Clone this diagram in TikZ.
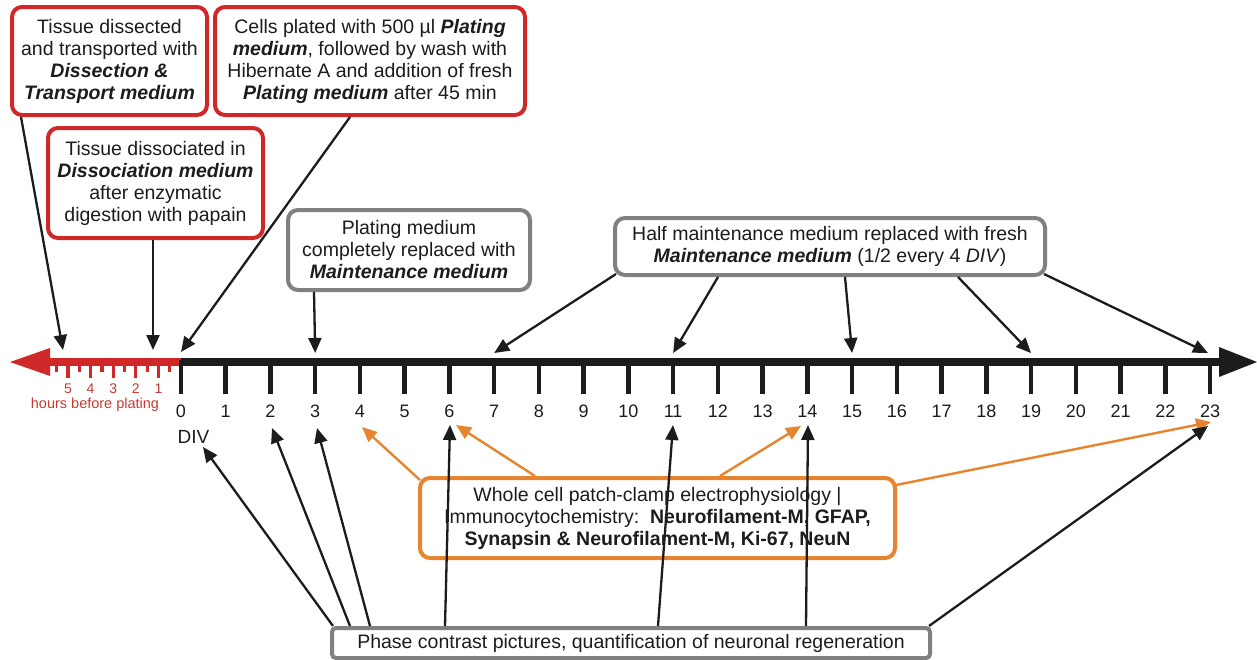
\documentclass[tikz,border=0pt]{standalone}
\usepackage{fontspec}
\setmainfont{Liberation Sans}
\usetikzlibrary{arrows.meta}
\definecolor{bred}{RGB}{208,40,40}
\definecolor{bgray}{RGB}{128,128,128}
\definecolor{borange}{RGB}{230,132,48}
\definecolor{tred}{RGB}{196,58,50}
\definecolor{ink}{RGB}{28,28,28}
\newcommand{\bi}[1]{\textbf{\textit{#1}}}
\begin{document}
\begin{tikzpicture}[x=1pt,y=-1pt,
  box/.style={draw, line width=4pt, rounded corners=10pt, align=center,
    font=\fontsize{19.5}{22}\selectfont, text=ink, inner sep=0pt},
  redbox/.style={box, draw=bred, fill=white},
  graybox/.style={box, draw=bgray, fill=white},
  orbox/.style={box, draw=borange},
  arr/.style={line width=2.3pt, draw=ink, -{Triangle[length=15pt,width=13pt]}},
  oarr/.style={line width=2.4pt, draw=borange, -{Triangle[length=15pt,width=13pt]}},
  divlab/.style={font=\fontsize{18}{18}\selectfont, text=ink},
  hlab/.style={font=\fontsize{14}{14}\selectfont, text=tred},
]
\useasboundingbox (0,0) rectangle (1257,659);

% ---- time axis ----
\draw[line width=8pt, bred] (46,362) -- (182,362);
\fill[bred] (10,362) -- (50,348) -- (50,376) -- cycle;
\draw[line width=8pt, ink] (181,362) -- (1222,362);
\fill[ink] (1257,362) -- (1219,347) -- (1219,377) -- cycle;
\foreach \i in {0,...,23} {
  \draw[line width=4.5pt, ink] (181+44.74*\i,360) -- (181+44.74*\i,394);
  \node[divlab] at (181+44.74*\i,411) {\i};
}
\node[divlab, font=\fontsize{19}{19}\selectfont, anchor=west] (div) at (174,437) {DIV};
\foreach \h in {1,...,5} {
  \draw[line width=3.2pt, bred] (181-22.6*\h,362) -- (181-22.6*\h,378);
  \node[hlab] at (181-22.6*\h,389) {\h};
}
\foreach \h in {0.5,1.5,...,5.5}
  \draw[line width=3.2pt, bred] (181-22.6*\h,362) -- (181-22.6*\h,372);
\node[font=\fontsize{14.5}{14.5}\selectfont, text=tred] (hbp) at (95,405) {hours before plating};

% targets on the axis
\coordinate (h53) at (63,350);
\coordinate (h12) at (153,350);
\coordinate (t0) at (181,352);
\coordinate (t3) at (315.2,353);
\coordinate (t7) at (494.2,353);
\coordinate (t11) at (673.1,353);
\coordinate (t15) at (852.1,353);
\coordinate (t19) at (1031,353);
\coordinate (t23) at (1208,353);
\coordinate (l0) at (203,447);
\coordinate (l2) at (272,428);
\coordinate (l3) at (317,428);
\coordinate (l4) at (362,427);
\coordinate (l6) at (450,425);
\coordinate (o6) at (456,425);
\coordinate (l11) at (673,425);
\coordinate (o14) at (801,426);
\coordinate (l14) at (808,425);
\coordinate (o23) at (1211,422);
\coordinate (l23) at (1208,426);

% ---- boxes ----
\node[redbox, minimum width=195pt, minimum height=108pt] (b1) at (109.5,61)
  {Tissue dissected\\and transported with\\\bi{Dissection \&}\\\bi{Transport medium}};
\node[redbox, minimum width=310pt, minimum height=108pt] (b2) at (370,61)
  {Cells plated with 500 µl \bi{Plating}\\\bi{medium}, followed by wash with\\Hibernate A and addition of fresh\\\bi{Plating medium} after 45 min};
\node[redbox, minimum width=215pt, minimum height=110pt] (b3) at (155.5,183)
  {Tissue dissociated in\\\bi{Dissociation medium}\\after enzymatic\\digestion with papain};
\node[graybox, minimum width=242pt, minimum height=80pt] (b4) at (409,250)
  {Plating medium\\completely replaced with\\\bi{Maintenance medium}};
\node[graybox, minimum width=430pt, minimum height=57pt] (b5) at (830,246.5)
  {Half maintenance medium replaced with fresh\\\bi{Maintenance medium} (1/2 every 4 \textit{DIV})};
\node[orbox, minimum width=475pt, minimum height=80pt] (b6) at (657.5,518)
  {Whole cell patch-clamp electrophysiology |\\Immunocytochemistry:\ \ \textbf{Neurofilament-M, GFAP,}\\\textbf{Synapsin \& Neurofilament-M, Ki-67, NeuN}};
\node[graybox, rounded corners=4pt, minimum width=598pt, minimum height=30pt] (b7) at (631,643)
  {Phase contrast pictures, quantification of neuronal regeneration};

% ---- connectors from the upper boxes ----
\draw[arr] ([xshift=11pt]b1.south west) -- (h53);
\draw[arr] ([xshift=-2.5pt]b3.south) -- (h12);
\draw[arr] ([xshift=137pt]b2.south west) -- (t0);
\draw[arr] ([xshift=28pt]b4.south west) -- (t3);
\draw[arr] ([xshift=3pt,yshift=3pt]b5.south west) -- (t7);
\draw[arr] ([xshift=-112pt]b5.south) -- (t11);
\draw[arr] ([xshift=15pt]b5.south) -- (t15);
\draw[arr] ([xshift=128pt]b5.south) -- (t19);
\draw[arr] ([xshift=-3pt,yshift=3pt]b5.south east) -- (t23);

% ---- connectors from the orange box ----
\draw[oarr] ([xshift=2pt,yshift=-4pt]b6.north west) -- (l4);
\draw[oarr] ([xshift=117pt]b6.north west) -- (o6);
\draw[oarr] ([xshift=302pt]b6.north west) -- (o14);
\draw[oarr] ([xshift=-1pt,yshift=-9pt]b6.north east) -- (o23);

% ---- connectors from the bottom box ----
\draw[arr] ([xshift=3pt]b7.north west) -- (l0);
\draw[arr] ([xshift=20pt]b7.north west) -- (l2);
\draw[arr] ([xshift=40pt]b7.north west) -- (l3);
\draw[arr] ([xshift=115pt]b7.north west) -- (l6);
\draw[arr] ([xshift=328pt]b7.north west) -- (l11);
\draw[arr] ([xshift=476pt]b7.north west) -- (l14);
\draw[arr] ([xshift=-3pt]b7.north east) -- (l23);
\end{tikzpicture}
\end{document}
